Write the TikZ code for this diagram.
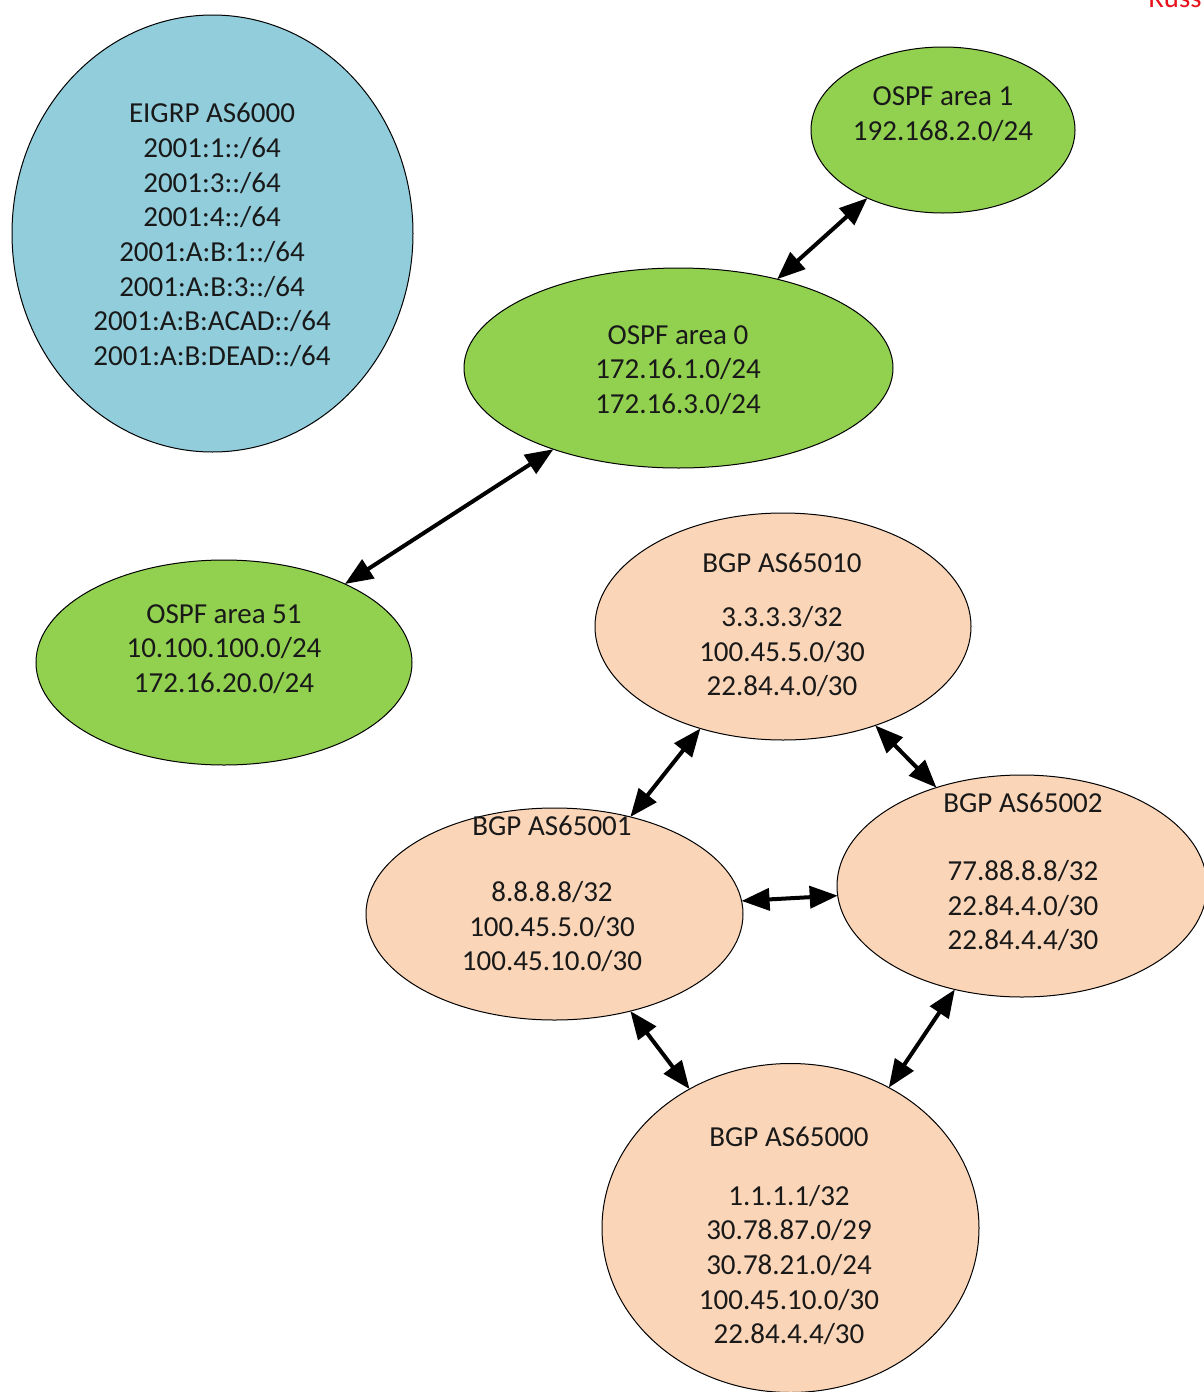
\documentclass[tikz,border=0pt]{standalone}
\usepackage{fontspec}
\setmainfont{Carlito}
\usetikzlibrary{shapes.geometric,arrows.meta}
\definecolor{eigrpblue}{HTML}{92CDDC}
\definecolor{ospfgreen}{HTML}{92D050}
\definecolor{bgppeach}{HTML}{FAD5B8}
\definecolor{rustred}{HTML}{E8101A}
\tikzset{
  area/.style={ellipse,draw=black,line width=0.5pt,inner sep=0pt,outer sep=0pt},
  eigrp/.style={area,fill=eigrpblue},
  ospf/.style={area,fill=ospfgreen},
  bgp/.style={area,fill=bgppeach},
  txt/.style={align=center,inner sep=0pt,font=\fontsize{14.5}{17.35}\selectfont,text=black!90},
  link/.style={line width=2pt,{Triangle[length=14pt,width=11pt]}-{Triangle[length=14pt,width=11pt]}}
}
\begin{document}
\begin{tikzpicture}[x=0.5pt,y=-0.5pt]
\clip (0,0) rectangle (1204,1392);
\fill[white] (0,0) rectangle (1204,1392);
% ellipses
\node[eigrp,minimum width=200.5pt,minimum height=218.5pt] (eigrp) at (212.5,233.5) {};
\node[ospf,minimum width=132pt,minimum height=83pt] (a1) at (943,130) {};
\node[ospf,minimum width=214.5pt,minimum height=100pt] (a0) at (678.5,368) {};
\node[ospf,minimum width=188pt,minimum height=102.5pt] (a51) at (224,662.5) {};
\node[bgp,minimum width=188pt,minimum height=113.5pt] (b10) at (783,626.5) {};
\node[bgp,minimum width=188.5pt,minimum height=106pt] (b01) at (554.5,914) {};
\node[bgp,minimum width=185pt,minimum height=111pt] (b02) at (1022,886) {};
\node[bgp,minimum width=188.5pt,minimum height=164.5pt] (b00) at (790.5,1228) {};
% texts
\node[txt] (eigrpt) at (212,235) {EIGRP AS6000\\2001:1::/64\\2001:3::/64\\2001:4::/64\\2001:A:B:1::/64\\2001:A:B:3::/64\\2001:A:B:ACAD::/64\\2001:A:B:DEAD::/64};
\node[txt] (a1t) at (943,114) {OSPF area 1\\192.168.2.0/24};
\node[txt] (a0t) at (678,370) {OSPF area 0\\172.16.1.0/24\\172.16.3.0/24};
\node[txt] (a51t) at (224,649) {OSPF area 51\\10.100.100.0/24\\172.16.20.0/24};
\node[txt] (b10t) at (782,625) {BGP AS65010\\[9.65pt]3.3.3.3/32\\100.45.5.0/30\\22.84.4.0/30};
\node[txt] (b01t) at (552,894) {BGP AS65001\\[15.65pt]8.8.8.8/32\\100.45.5.0/30\\100.45.10.0/30};
\node[txt] (b02t) at (1023,872) {BGP AS65002\\[16.5pt]77.88.8.8/32\\22.84.4.0/30\\22.84.4.4/30};
\node[txt] (b00t) at (789,1236) {BGP AS65000\\[12pt]1.1.1.1/32\\30.78.87.0/29\\30.78.21.0/24\\100.45.10.0/30\\22.84.4.4/30};
% red corner text, cut off at the edge as in the reference
\node[anchor=base west,inner sep=0pt,text=rustred,font=\fontsize{14.35}{17}\selectfont] (rus) at (1148,8) {Russ};
% links
\draw[link] (a1.222.3) -- (a0.42.3);
\draw[link] (a0.213.8) -- (a51.33.1);
\draw[link] (b10.231.1) -- (b01.52.5);
\draw[link] (b10.313) -- (b02.131.3);
\draw[link] (b01.4.5) -- (b02.183.4);
\draw[link] (b01.308.5) -- (b00.126);
\draw[link] (b02.237.3) -- (b00.55.4);
\end{tikzpicture}
\end{document}
